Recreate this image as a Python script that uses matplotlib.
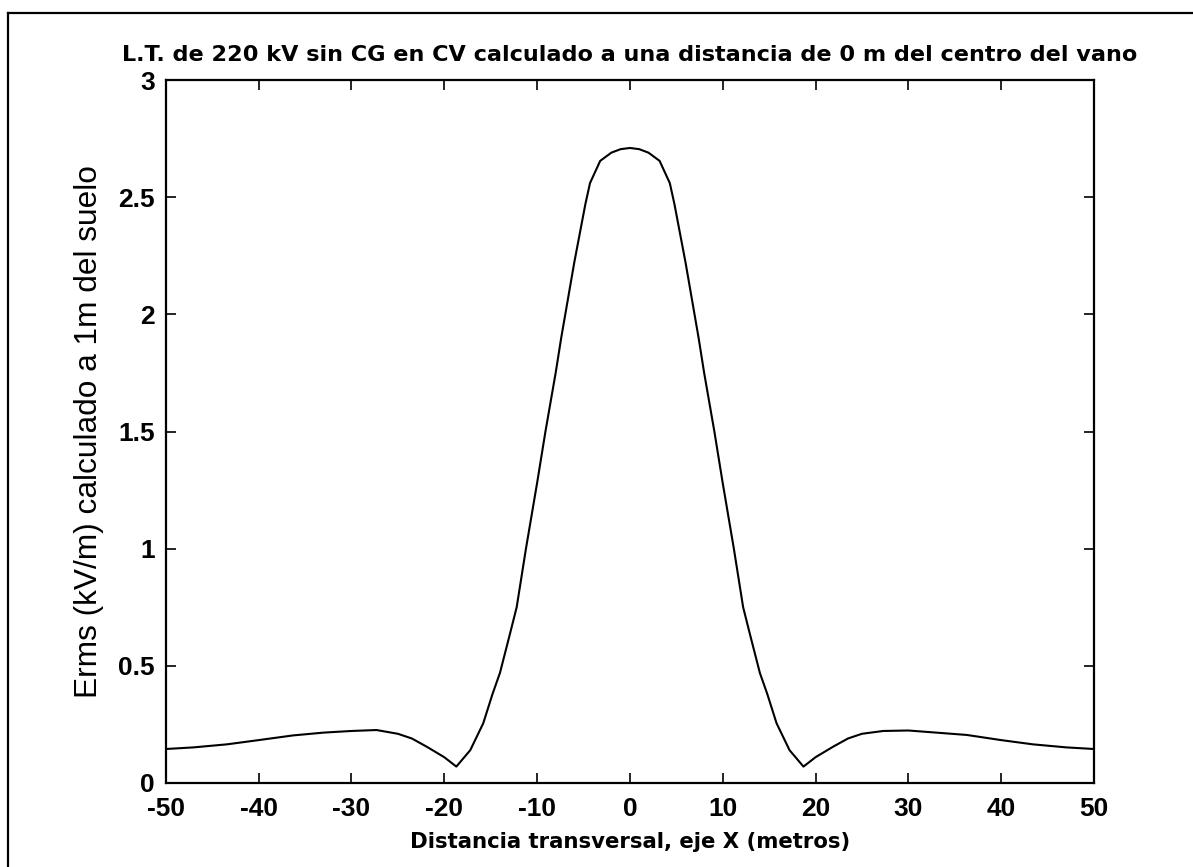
import matplotlib.pyplot as plt
from matplotlib.lines import Line2D

# distancia transversal (m) y campo Erms (kV/m)
dist_x = [-50, -47, -43.4, -40, -36.3, -33, -30, -27.3, -25, -23.5, -21.9, -20, -18.7,
          -17.2, -15.8, -14.8, -14.0, -12.9, -12.2, -11.2, -10, -9.1, -8, -7.4, -6.0,
          -4.8, -4.3, -3.2, -2, -1, 0, 1, 2, 3.2, 4.3, 4.8, 6.0, 7.4, 8, 9.1, 10,
          11.2, 12.2, 12.9, 14.0, 14.8, 15.8, 17.2, 18.7, 20, 21.9, 23.5, 25, 27.3,
          30, 33, 36.3, 40, 43.4, 47, 50]
erms = [0.145, 0.152, 0.165, 0.183, 0.203, 0.215, 0.222, 0.226, 0.21, 0.19, 0.155,
        0.11, 0.07, 0.14, 0.255, 0.38, 0.47, 0.64, 0.75, 1.0, 1.28, 1.5, 1.75, 1.9,
        2.22, 2.47, 2.56, 2.655, 2.69, 2.705, 2.71, 2.705, 2.69, 2.655, 2.56, 2.47,
        2.22, 1.9, 1.75, 1.5, 1.28, 1.0, 0.75, 0.64, 0.47, 0.38, 0.255, 0.14, 0.07,
        0.11, 0.155, 0.19, 0.21, 0.222, 0.224, 0.215, 0.205, 0.183, 0.165, 0.152,
        0.145]

xticks = list(range(-50, 51, 10))
yticks = [0, 0.5, 1, 1.5, 2, 2.5, 3]
ytick_labels = ['0', '0.5', '1', '1.5', '2', '2.5', '3']

titulo = 'L.T. de 220 kV sin CG en CV calculado a una distancia de 0 m del centro del vano'

fig = plt.figure(figsize=(11.93, 8.67), dpi=100, facecolor='white')
ax = fig.add_axes([0.139, 0.0969, 0.778, 0.8108])

ax.plot(dist_x, erms, color='black', linewidth=1.5)

ax.set_xlim(-50, 50)
ax.set_ylim(0, 3)
ax.set_xticks(xticks)
ax.set_xticklabels([str(t) for t in xticks])
ax.set_yticks(yticks)
ax.set_yticklabels(ytick_labels)

for s in ax.spines.values():
    s.set_linewidth(1.6)
ax.tick_params(direction='in', length=7, width=1.2, top=True, right=True,
               labelsize=19)
ax.tick_params(axis='x', pad=10)
ax.tick_params(axis='y', pad=8)
for lbl in ax.get_xticklabels() + ax.get_yticklabels():
    lbl.set_family('Liberation Sans')
    lbl.set_weight('bold')

ax.set_title(titulo, fontsize=16.1, family='DejaVu Sans', fontweight='bold', pad=14)
ax.set_xlabel('Distancia transversal, eje X (metros)', fontsize=15.3,
              family='DejaVu Sans', fontweight='bold', labelpad=8)
ax.set_ylabel('Erms (kV/m) calculado a 1m del suelo', fontsize=22.8,
              family='Liberation Sans', labelpad=10)

# marco de la figura (solo arriba e izquierda visibles)
fig.add_artist(Line2D([8 / 1193, 8 / 1193], [0, 1 - 13 / 867], color='black',
                      linewidth=1.6, transform=fig.transFigure))
fig.add_artist(Line2D([8 / 1193, 1], [1 - 13 / 867, 1 - 13 / 867], color='black',
                      linewidth=1.6, transform=fig.transFigure))

fig.savefig('out.png', dpi=100, facecolor='white')
